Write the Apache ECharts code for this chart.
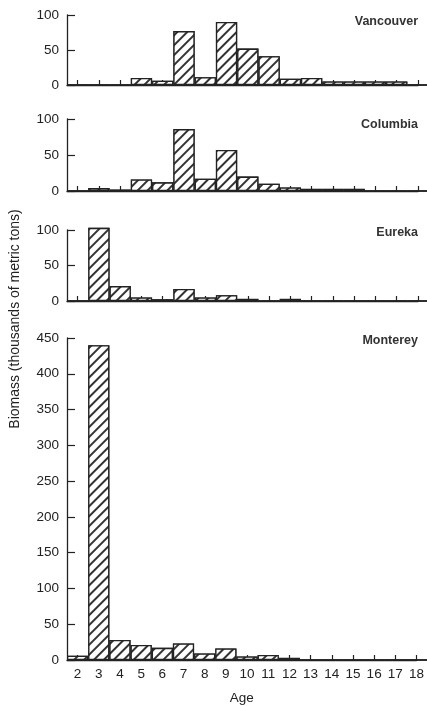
<!DOCTYPE html>
<html>
<head>
<meta charset="utf-8">
<script src="https://cdn.jsdelivr.net/npm/echarts@6/dist/echarts.min.js"></script>
<style>html,body{margin:0;padding:0;background:#fff;}#c{width:427px;height:706px;}</style>
</head>
<body>
<div id="c"></div>
<script>
const ages = [2,3,4,5,6,7,8,9,10,11,12,13,14,15,16,17,18];
const panelNames = ['Vancouver','Columbia','Eureka','Monterey'];
const vancouver = [0,0,0,10,6,77,11,90,52,41,9,10,5,5,5,5,0];
const columbia  = [0,4,2,16,12,86,17,57,20,10,5,3,3,3,0,0,0];
const eureka    = [0,103,21,5,2.5,17,5,8,3,0,3,0,0,0,0,0,0];
const monterey  = [6,440,28,21,17,23,9,16,5,7,3,0,0,0,0,0,0];
const seriesValues = [vancouver, columbia, eureka, monterey];
const yMax = [100,100,100,450];
const yInterval = 50;

const grids = [
  {top:15, height:70},
  {top:119, height:72},
  {top:230, height:71},
  {top:338, height:322}
];
const titleTops = [15, 118, 226, 334];
const font = '"Liberation Sans", Arial, Helvetica, sans-serif';
const ink = '#222';

const option = {
  animation:false,
  backgroundColor:'#fff',
  title: panelNames.map((n,i)=>({
    text:n, right:9, top:titleTops[i], padding:0,
    textStyle:{fontFamily:font,fontSize:12.5,fontWeight:'bold',color:'#333'}
  })),
  grid: grids.map(g=>({left:67,right:9,top:g.top,height:g.height})),
  xAxis: grids.map((g,i)=>({
    type:'value', gridIndex:i, min:1.5, max:18,
    splitLine:{show:false},
    axisLine:{show:true,lineStyle:{color:ink,width:1.3}},
    axisTick:{show:true,inside:true,length:5,customValues:ages,lineStyle:{color:ink,width:1.2}},
    axisLabel:{show:i===3,customValues:ages,fontFamily:font,fontSize:13.5,color:ink,margin:7},
    name: i===3 ? 'Age' : '',
    nameLocation:'middle', nameGap:31,
    nameTextStyle:{fontFamily:font,fontSize:13.5,color:ink}
  })),
  yAxis: grids.map((g,i)=>({
    type:'value', gridIndex:i, min:0, max:yMax[i], interval:yInterval,
    splitLine:{show:false},
    axisLine:{show:true,lineStyle:{color:ink,width:1.3}},
    axisTick:{show:true,inside:true,length:8,lineStyle:{color:ink,width:1.2}},
    axisLabel:{fontFamily:font,fontSize:13.5,color:ink,margin:8}
  })),
  graphic:[{
    type:'text', x:15, y:319, rotation:Math.PI/2,
    style:{text:'Biomass (thousands of metric tons)',font:'14px '+font,fill:ink,textAlign:'center',textVerticalAlign:'middle'}
  }],
  series: seriesValues.map((vals,i)=>({
    type:'bar', xAxisIndex:i, yAxisIndex:i, clip:false,
    barWidth:'100%',
    data: ages.map((a,k)=>[a, vals[k]]),
    itemStyle:{
      color:'#fff', borderColor:ink, borderWidth:1.3,
      decal:{symbol:'rect',symbolSize:1,color:'#333',backgroundColor:'#fff',
             dashArrayX:[1,0],dashArrayY:[1.4,4.2],rotation:-Math.PI/4}
    }
  }))
};
const chart = echarts.init(document.getElementById('c'),null,{renderer:'canvas'});
chart.setOption(option);
</script>
</body>
</html>
